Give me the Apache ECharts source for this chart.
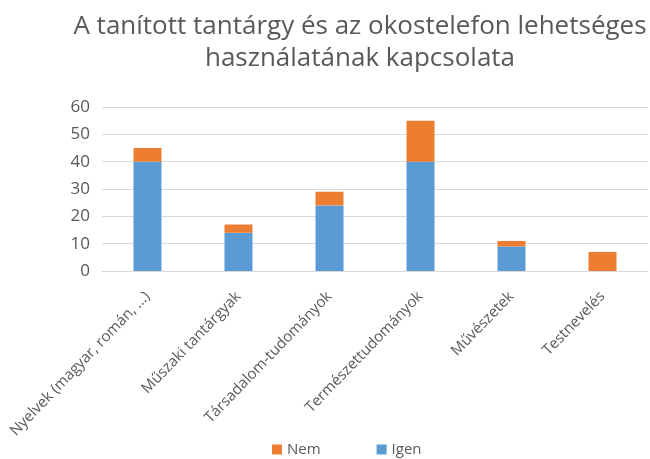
<!DOCTYPE html>
<html><head><meta charset="utf-8">
<script src="https://cdn.jsdelivr.net/npm/echarts@6/dist/echarts.min.js"></script>
<style>html,body{margin:0;padding:0;background:#fff}#c{width:650px;height:459px}</style>
</head><body><div id="c"></div>
<script>
const categories = ["Nyelvek (magyar, román, ...)", "Műszaki tantárgyak", "Társadalom-tudományok", "Természettudományok", "Művészetek", "Testnevelés"];
const igen = [40, 14, 24, 40, 9, 0];
const nem = [5, 3, 5, 15, 2, 7];
const yTicks = [0, 10, 20, 30, 40, 50, 60];
const titleText = "A tanított tantárgy és az okostelefon lehetséges\nhasználatának kapcsolata";

const font = "'Open Sans', sans-serif";
const chart = echarts.init(document.getElementById('c'), null, {renderer: 'canvas'});
chart.setOption({
  animation: false,
  title: {
    text: titleText, left: 355, top: 6, textAlign: 'center',
    textStyle: {fontFamily: font, fontSize: 26, fontWeight: 'normal', color: '#595959', lineHeight: 32}
  },
  legend: {
    data: ['Nem', 'Igen'], top: 437, left: 267, icon: 'rect', itemWidth: 10, itemHeight: 10, itemGap: 56,
    textStyle: {fontFamily: font, fontSize: 15, color: '#595959'}
  },
  grid: {left: 102, right: 2, top: 107, bottom: 188, containLabel: false, outerBoundsMode: 'none'},
  xAxis: {
    type: 'category', data: categories,
    axisLine: {lineStyle: {color: '#d9d9d9'}}, axisTick: {show: false},
    axisLabel: {rotate: 46, interval: 0, fontFamily: font, fontSize: 15, color: '#595959', margin: 23, padding: [20, 0, 0, 0]}
  },
  yAxis: {
    type: 'value', min: yTicks[0], max: yTicks[yTicks.length - 1], interval: 10,
    axisLine: {show: false}, axisTick: {show: false},
    splitLine: {lineStyle: {color: '#d9d9d9'}},
    axisLabel: {fontFamily: font, fontSize: 17, color: '#595959', margin: 12}
  },
  series: [
    {name: 'Igen', type: 'bar', stack: 's', data: igen, barWidth: 28, itemStyle: {color: '#5b9bd5'}},
    {name: 'Nem', type: 'bar', stack: 's', data: nem, barWidth: 28, itemStyle: {color: '#ed7d31'}}
  ]
});
</script></body></html>
